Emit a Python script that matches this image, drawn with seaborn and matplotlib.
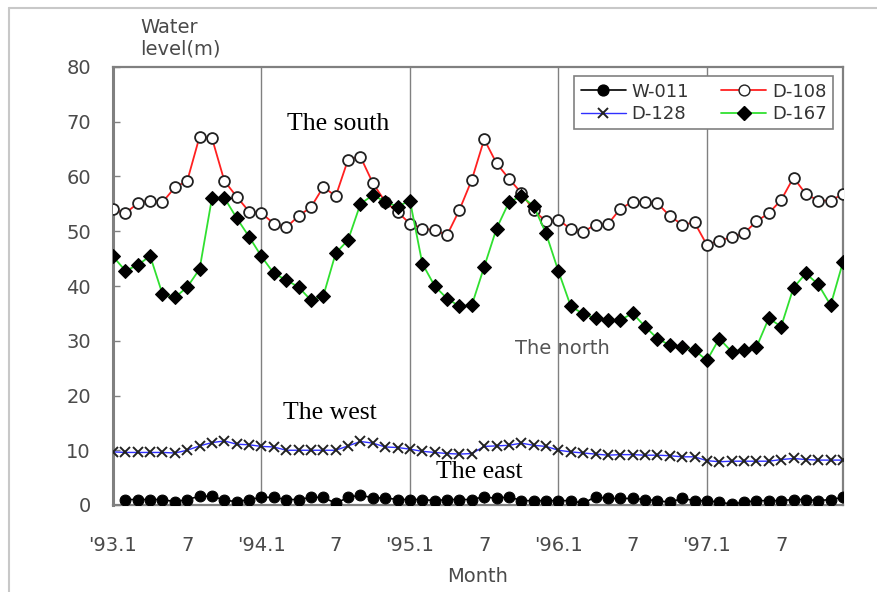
import numpy as np
import pandas as pd
import seaborn as sns
import matplotlib.pyplot as plt
from matplotlib.lines import Line2D

# Monthly groundwater levels (m), Jan 1993 - Dec 1997
months = np.arange(60)

w011 = [np.nan, 1.0, 1.0, 1.0, 1.0, 0.6, 1.0, 1.6, 1.6, 0.9, 0.6, 1.0,
        1.4, 1.4, 1.0, 1.0, 1.4, 1.4, 0.3, 1.4, 1.8, 1.3, 1.3, 1.0,
        1.0, 1.0, 0.8, 1.0, 1.0, 1.0, 1.5, 1.2, 1.5, 0.8, 0.8, 0.8,
        0.8, 0.8, 0.3, 1.5, 1.2, 1.2, 1.2, 1.0, 0.8, 0.5, 1.2, 0.8,
        0.8, 0.5, 0.2, 0.5, 0.8, 0.8, 0.8, 1.0, 1.0, 0.8, 1.0, 1.4]

d108 = [54.0, 53.3, 55.1, 55.6, 55.3, 58.0, 59.2, 67.3, 67.0, 59.2, 56.3, 53.6,
        53.3, 51.4, 50.7, 52.8, 54.4, 58.1, 56.4, 63.1, 63.6, 58.8, 55.4, 53.5,
        51.4, 50.5, 50.2, 49.3, 53.9, 59.4, 66.8, 62.4, 59.6, 57.0, 53.8, 51.8,
        52.1, 50.4, 49.9, 51.2, 51.3, 54.1, 55.4, 55.4, 55.1, 52.8, 51.2, 51.6,
        47.5, 48.3, 48.9, 49.6, 51.8, 53.3, 55.7, 59.8, 56.8, 55.6, 55.6, 56.8]

d128 = [9.7, 9.6, 9.6, 9.6, 9.6, 9.5, 10.0, 10.8, 11.4, 11.7, 11.1, 11.0,
        10.7, 10.6, 10.0, 10.0, 10.0, 10.0, 10.0, 10.8, 11.6, 11.3, 10.6, 10.5,
        10.2, 9.8, 9.6, 9.4, 9.3, 9.4, 10.7, 10.8, 10.9, 11.3, 10.9, 10.7,
        10.0, 9.7, 9.5, 9.3, 9.1, 9.2, 9.2, 9.1, 9.1, 9.0, 8.8, 8.8,
        8.1, 7.9, 8.0, 8.0, 8.0, 8.0, 8.3, 8.5, 8.3, 8.2, 8.2, 8.2]

d167 = [45.4, 42.8, 43.8, 45.5, 38.5, 37.9, 39.8, 43.1, 56.1, 56.1, 52.4, 49.0,
        45.4, 42.3, 41.1, 39.8, 37.4, 38.2, 46.0, 48.4, 55.0, 56.6, 55.4, 54.5,
        55.6, 44.1, 40.0, 37.7, 36.3, 36.5, 43.5, 50.5, 55.3, 56.4, 54.6, 49.6,
        42.7, 36.3, 34.9, 34.1, 33.8, 33.8, 35.0, 32.6, 30.4, 29.2, 28.9, 28.3,
        26.4, 30.4, 28.0, 28.4, 28.8, 34.1, 32.6, 39.7, 42.3, 40.3, 36.5, 44.4]

tick_pos = [0, 6, 12, 18, 24, 30, 36, 42, 48, 54]
tick_labels = ["'93.1", "7", "'94.1", "7", "'95.1", "7", "'96.1", "7", "'97.1", "7"]
year_starts = [12, 24, 36, 48]

df = pd.DataFrame({"month": months, "W-011": w011, "D-108": d108,
                   "D-128": d128, "D-167": d167})

sns.set_theme(style="white")
plt.rcParams["font.family"] = ["DejaVu Sans"]

W, H = 878, 592
fig = plt.figure(figsize=(W / 100, H / 100), dpi=100)
ax = fig.add_axes([113 / W, 1 - 505 / H, 730 / W, 438 / H])

grey = "#808080"
for x in year_starts:
    ax.axvline(x, color=grey, lw=1.0, zorder=1)

ms = 7.8
sns.lineplot(data=df, x="month", y="W-011", ax=ax, color="black", lw=1.2,
             marker="o", markersize=ms, markerfacecolor="black",
             markeredgecolor="black", zorder=3)
sns.lineplot(data=df, x="month", y="D-108", ax=ax, color="#ff2020", lw=1.3,
             marker="o", markersize=ms, markerfacecolor="white",
             markeredgecolor="#222222", markeredgewidth=1.3, zorder=3)
sns.lineplot(data=df, x="month", y="D-128", ax=ax, color="#3030ff", lw=1.0,
             marker="x", markersize=ms, markeredgecolor="#222222",
             markeredgewidth=1.4, zorder=3)
sns.lineplot(data=df, x="month", y="D-167", ax=ax, color="#30e030", lw=1.3,
             marker="D", markersize=ms - 1, markerfacecolor="black",
             markeredgecolor="black", zorder=3)

ax.set_xlim(0, 59)
ax.set_ylim(0, 80)
ax.set_yticks(np.arange(0, 81, 10))
ax.set_xticks(tick_pos)
ax.set_xticklabels(tick_labels)
ax.set_xlabel("")
ax.set_ylabel("")
ax.tick_params(axis="y", direction="in", length=5, width=1, color=grey,
               pad=16, labelsize=14, labelcolor="#4a4a4a", left=True)
ax.tick_params(axis="x", direction="in", length=4, width=1, color=grey,
               pad=22, labelsize=14, labelcolor="#4a4a4a", bottom=True)
for s in ax.spines.values():
    s.set_color(grey)
    s.set_linewidth(1.6)
ax.spines["left"].set_linewidth(2.2)

# axis titles
fig.text(140 / W, 1 - 18 / H, "Water\nlevel(m)", ha="left", va="top",
         fontsize=14, color="#4a4a4a", linespacing=1.15)
fig.text(478 / W, 1 - 577 / H, "Month", ha="center", va="center",
         fontsize=14, color="#4a4a4a")

# region annotations
serif = dict(family="Liberation Serif", fontsize=18.5, color="black",
             ha="center", va="center", zorder=4)
ax.text(18.2, 69.5, "The south", **serif)
ax.text(17.5, 16.8, "The west", **serif)
ax.text(29.6, 6.0, "The east", **serif)
ax.text(36.3, 28.5, "The north", fontsize=14, color="#555555",
        ha="center", va="center", zorder=2)

handles = [
    Line2D([], [], color="black", marker="o", markersize=ms,
           markerfacecolor="black", markeredgecolor="black", lw=1.2),
    Line2D([], [], color="#3030ff", marker="x", markersize=ms,
           markeredgecolor="#222222", markeredgewidth=1.4, lw=1.0),
    Line2D([], [], color="#ff2020", marker="o", markersize=ms,
           markerfacecolor="white", markeredgecolor="#222222", lw=1.3),
    Line2D([], [], color="#30e030", marker="D", markersize=ms - 1,
           markerfacecolor="black", markeredgecolor="black", lw=1.3),
]
leg = ax.legend(handles, ["W-011", "D-128", "D-108", "D-167"], ncol=2,
                loc="upper right", bbox_to_anchor=(0.986, 0.979),
                borderaxespad=0, fontsize=13, frameon=True, fancybox=False,
                framealpha=1, edgecolor=grey, handlelength=2.5,
                columnspacing=1.8, handletextpad=0.3, borderpad=0.35,
                labelspacing=0.25, labelcolor="#333333")
leg.get_frame().set_linewidth(1.2)

# light outer frame of the figure
fig.add_artist(Line2D([9 / W, 9 / W], [0, 1 - 8 / H], transform=fig.transFigure,
                      color="#c8c8c8", lw=1.5))
fig.add_artist(Line2D([9 / W, 1], [1 - 8 / H, 1 - 8 / H], transform=fig.transFigure,
                      color="#c8c8c8", lw=1.5))

fig.savefig("out.png", dpi=100)
